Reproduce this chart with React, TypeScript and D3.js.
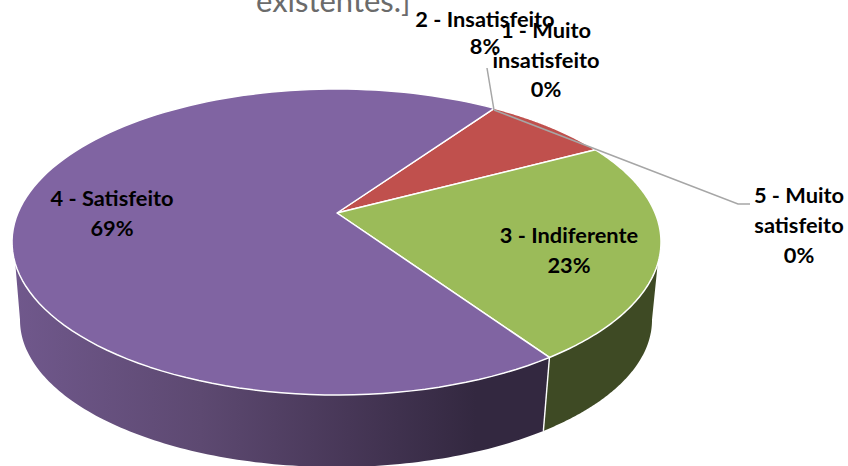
import React from "react";
import * as d3 from "d3";

const categories = ["1 - Muito insatisfeito", "2 - Insatisfeito", "3 - Indiferente", "4 - Satisfeito", "5 - Muito satisfeito"];
const responses = [0, 1, 3, 9, 0];
const topColors = ["#4F81BD", "#C0504D", "#9BBB59", "#8064A2", "#4BACC6"];
const titleTail = "existentes.]";

const labelLines = [
  ["1 - Muito", "insatisfeito"],
  ["2 - Insatisfeito"],
  ["3 - Indiferente"],
  ["4 - Satisfeito"],
  ["5 - Muito", "satisfeito"],
];
const labelAnchors = [
  { x: 546, y: 38 },
  { x: 485, y: 27 },
  { x: 569, y: 243 },
  { x: 112, y: 206 },
  { x: 799, y: 203 },
];
const labelLineGap = [29.5, 27, 30, 30, 30];

const W = 848, H = 466;
const top = { cx: 336.5, cy: 242, rx: 324.5, ry: 153 };
const low = { cx: 336, cy: 320, rx: 316, ry: 147 };
const T = 0.21; // perspective shift of the pie's centre on the top ellipse
const START = (35.6 * Math.PI) / 180;

// Angle clockwise from 12 o'clock -> point on a perspective rim
function rim(e: typeof top, a: number) {
  const u0 = Math.sin(a), v0 = -Math.cos(a);
  const w = 1 - T * v0;
  const u = (u0 * Math.sqrt(1 - T * T)) / w;
  const v = (v0 - T) / w;
  return [e.cx + e.rx * u, e.cy + e.ry * v] as [number, number];
}
const apex: [number, number] = [337, 213];

const pie = d3.pie<number>().sort(null).startAngle(START).endAngle(START + 2 * Math.PI);
const arcs = pie(responses);
const total = d3.sum(responses);
const pct = d3.format(".0%");
const line = d3.line();

function sample(a0: number, a1: number) {
  return d3.range(0, 121).map((i) => a0 + ((a1 - a0) * i) / 120);
}
function slicePath(a0: number, a1: number) {
  return line([apex, ...sample(a0, a1).map((a) => rim(top, a))]) + "Z";
}
function sidePath(topA: [number, number], lowA: [number, number]) {
  return line([
    ...sample(topA[0], topA[1]).map((a) => rim(top, a)),
    ...sample(lowA[1], lowA[0]).map((a) => rim(low, a)),
  ]) + "Z";
}

const rad = (d: number) => (d * Math.PI) / 180;
const seam = arcs[2].endAngle;
const greenSide = sidePath([rad(110), seam], [rad(102), seam]);
const purpleSide = sidePath([seam, rad(250)], [seam, rad(258)]);
const seamTop = rim(top, seam), seamLow = rim(low, seam);

const leaders: [number, number][][] = [
  [[487, 68], [494, 110]],
  [[494, 110], [738, 204], [750, 204]],
];

export default function App() {
  return (
    <svg width={W} height={H} viewBox={`0 0 ${W} ${H}`} style={{ position: "fixed", left: 0, top: 0, background: "#fff" }}>
      <defs>
        <linearGradient id="sideGrad" gradientUnits="userSpaceOnUse" x1={15} x2={545} y1={0} y2={0}>
          <stop offset="0" stopColor="#70588C" />
          <stop offset="0.35" stopColor="#5D4971" />
          <stop offset="0.63" stopColor="#473757" />
          <stop offset="0.87" stopColor="#332840" />
          <stop offset="1" stopColor="#332840" />
        </linearGradient>
      </defs>

      <text x={256} y={12} fontFamily="Lato, 'Open Sans', sans-serif" fontSize={31} fill="#6b6b6b">{titleTail}</text>

      <path d={greenSide} fill="#3E4A24" />
      <path d={purpleSide} fill="url(#sideGrad)" />
      <line x1={seamTop[0]} y1={seamTop[1]} x2={seamLow[0]} y2={seamLow[1]} stroke="#fff" strokeWidth={1.4} />

      {arcs.map((d, i) => d.value > 0 && (
        <path key={i} d={slicePath(d.startAngle, d.endAngle)} fill={topColors[i]} stroke="#fff" strokeWidth={1.5} strokeLinejoin="round" />
      ))}

      {leaders.map((p, i) => (
        <path key={i} d={line(p) as string} fill="none" stroke="#A6A6A6" strokeWidth={1.5} />
      ))}

      {categories.map((c, i) => {
        const lines = [...labelLines[i], pct(responses[i] / total)];
        const a = labelAnchors[i];
        return (
          <text key={c} fontFamily="Lato, Carlito, 'Open Sans', sans-serif" fontWeight={700} fontSize={21.8} fill="#000" textAnchor="middle">
            {lines.map((t, j) => (
              <tspan key={j} x={a.x} y={a.y + j * labelLineGap[i]}>{t}</tspan>
            ))}
          </text>
        );
      })}
    </svg>
  );
}
